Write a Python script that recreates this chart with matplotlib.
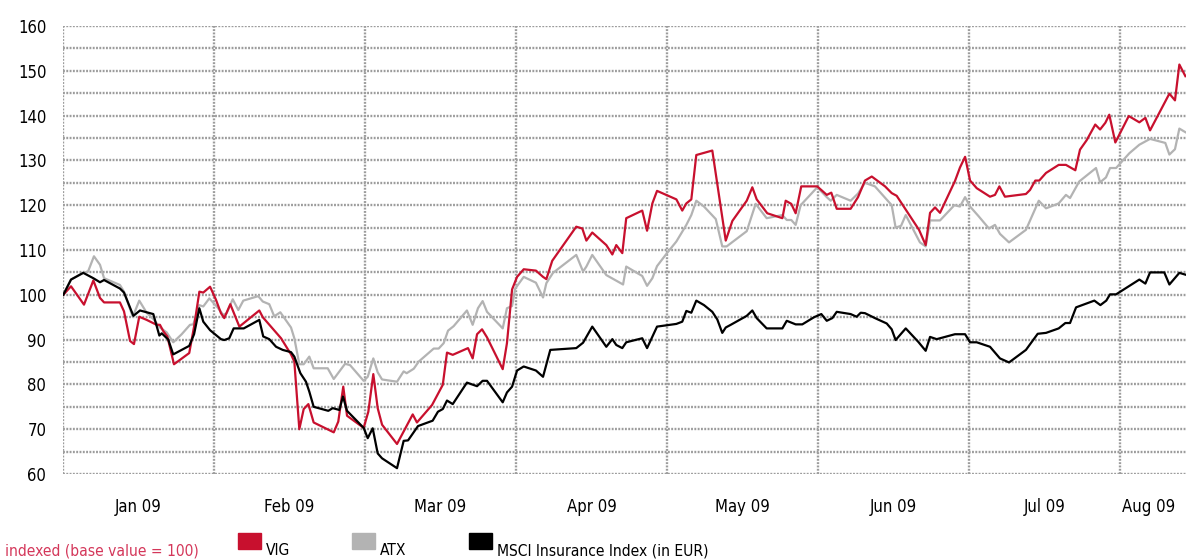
import matplotlib

matplotlib.use("Agg")
import matplotlib.pyplot as plt
from matplotlib.patches import Rectangle

plt.rcParams["font.family"] = ["DejaVu Sans"]
plt.rcParams["font.stretch"] = "condensed"

# x positions in months since 1 Jan 09 (1.0 = start of Feb, ...)
MONTHS = ["Jan 09", "Feb 09", "Mar 09", "Apr 09", "May 09", "Jun 09", "Jul 09", "Aug 09"]
MONTH_LABEL_POS = [0.5, 1.5, 2.5, 3.5, 4.5, 5.5, 6.5, 7.19]

vig_x = [0.002, 0.053, 0.139, 0.201, 0.245, 0.272, 0.377, 0.404, 0.444, 0.470, 0.505, 0.554,
         0.620, 0.642, 0.664, 0.691, 0.735, 0.836, 0.868, 0.903, 0.929, 0.974, 1.013, 1.046,
         1.068, 1.108, 1.168, 1.300, 1.323, 1.377, 1.444, 1.510, 1.532, 1.565, 1.594, 1.625,
         1.660, 1.793, 1.823, 1.856, 1.881, 1.991, 2.022, 2.055, 2.084, 2.113, 2.212, 2.316,
         2.344, 2.444, 2.515, 2.543, 2.581, 2.682, 2.713, 2.742, 2.775, 2.808, 2.912, 2.940,
         2.974, 3.007, 3.051, 3.132, 3.179, 3.201, 3.240, 3.399, 3.439, 3.466, 3.505, 3.598,
         3.638, 3.664, 3.704, 3.730, 3.836, 3.868, 3.903, 3.934, 4.062, 4.101, 4.128, 4.161,
         4.194, 4.300, 4.389, 4.433, 4.528, 4.565, 4.594, 4.664, 4.764, 4.786, 4.823, 4.852,
         4.889, 4.995, 5.058, 5.088, 5.124, 5.216, 5.265, 5.311, 5.356, 5.444, 5.488, 5.521,
         5.669, 5.713, 5.742, 5.775, 5.808, 5.907, 5.940, 5.974, 6.007, 6.051, 6.139, 6.172,
         6.201, 6.238, 6.377, 6.404, 6.439, 6.465, 6.510, 6.594, 6.642, 6.704, 6.735, 6.779,
         6.836, 6.868, 6.903, 6.929, 6.969, 7.058, 7.128, 7.168, 7.199, 7.327, 7.364, 7.393,
         7.433]
vig_y = [100, 101.9, 97.8, 103.2, 99.3, 98.3, 98.3, 96.3, 89.7, 89.0, 95.1, 94.4,
         93.3, 93.3, 91.9, 90.7, 84.5, 87.0, 92.9, 100.7, 100.5, 101.8, 98.9, 95.9,
         94.8, 97.9, 92.9, 96.5, 95.0, 92.9, 90.3, 86.7, 85.1, 70.0, 74.5, 75.6,
         71.5, 69.3, 71.7, 79.5, 73.0, 70.3, 73.9, 82.3, 74.7, 71.0, 66.7, 73.3,
         71.5, 75.4, 79.9, 87.1, 86.6, 88.1, 85.8, 91.2, 92.3, 90.5, 83.4, 89.2,
         101.2, 104.0, 105.7, 105.4, 104.0, 103.5, 107.6, 115.2, 114.8, 112.1, 113.9, 111.1,
         109.0, 111.1, 109.3, 117.1, 118.8, 114.3, 120.4, 123.2, 121.3, 118.8, 120.4, 121.3,
         131.2, 132.2, 112.1, 116.5, 121.0, 124.0, 121.3, 118.2, 117.1, 121.0, 120.3, 118.2,
         124.2, 124.2, 122.3, 122.8, 119.2, 119.2, 121.8, 125.5, 126.4, 124.2, 122.7, 122.1,
         114.5, 111.1, 118.3, 119.5, 118.3, 125.4, 128.4, 130.8, 125.5, 123.8, 121.9, 122.3,
         124.2, 121.9, 122.5, 123.4, 125.5, 125.5, 127.2, 129.0, 129.0, 127.8, 132.4, 134.5,
         138.0, 136.9, 138.4, 140.2, 134.0, 139.9, 138.5, 139.5, 136.7, 144.9, 143.4, 151.4,
         148.8]

atx_x = [0.002, 0.053, 0.134, 0.166, 0.205, 0.245, 0.272, 0.377, 0.404, 0.462, 0.505, 0.554,
         0.598, 0.642, 0.687, 0.730, 0.786, 0.841, 0.863, 0.901, 0.929, 0.969, 1.018, 1.062,
         1.084, 1.124, 1.161, 1.194, 1.293, 1.323, 1.366, 1.399, 1.439, 1.510, 1.532, 1.565,
         1.594, 1.631, 1.660, 1.753, 1.793, 1.868, 1.901, 1.991, 2.018, 2.055, 2.084, 2.113,
         2.212, 2.256, 2.276, 2.323, 2.356, 2.455, 2.488, 2.521, 2.550, 2.587, 2.675, 2.713,
         2.748, 2.779, 2.808, 2.912, 2.940, 2.974, 2.995, 3.051, 3.132, 3.179, 3.201, 3.245,
         3.399, 3.444, 3.466, 3.505, 3.598, 3.709, 3.730, 3.836, 3.868, 3.903, 3.934, 3.995,
         4.062, 4.128, 4.161, 4.194, 4.245, 4.323, 4.366, 4.395, 4.528, 4.587, 4.660, 4.764,
         4.793, 4.823, 4.852, 4.885, 4.995, 5.058, 5.084, 5.124, 5.216, 5.265, 5.311, 5.377,
         5.488, 5.514, 5.550, 5.581, 5.675, 5.713, 5.742, 5.808, 5.903, 5.940, 5.974, 6.007,
         6.062, 6.132, 6.172, 6.205, 6.265, 6.377, 6.462, 6.510, 6.594, 6.642, 6.669, 6.730,
         6.841, 6.868, 6.907, 6.934, 6.974, 7.062, 7.128, 7.199, 7.300, 7.327, 7.364, 7.393,
         7.433]
atx_y = [100, 103.4, 104.9, 105.2, 108.6, 106.7, 103.7, 102.2, 100.7, 95.1, 98.7, 96.0,
         94.6, 92.7, 91.6, 89.4, 91.2, 93.3, 93.4, 97.7, 97.4, 99.2, 97.4, 95.5,
         95.9, 99.0, 96.6, 98.7, 99.7, 98.5, 97.9, 95.2, 96.1, 92.7, 90.3, 84.5,
         84.5, 86.2, 83.6, 83.6, 81.2, 84.6, 84.3, 80.8, 81.7, 85.8, 82.7, 81.1,
         80.6, 82.9, 82.5, 83.5, 85.1, 88.0, 88.0, 89.2, 92.0, 93.0, 96.5, 93.3,
         97.0, 98.6, 96.2, 92.5, 97.0, 97.5, 101.4, 104.0, 102.7, 99.4, 102.6, 104.9,
         108.9, 105.2, 106.3, 108.9, 104.4, 102.3, 106.3, 104.2, 102.0, 103.7, 106.4, 109.1,
         111.9, 115.6, 117.8, 121.0, 119.7, 116.9, 110.8, 110.8, 114.2, 120.3, 117.1, 117.8,
         116.7, 116.7, 115.6, 120.0, 124.0, 121.8, 121.0, 122.3, 121.0, 122.6, 125.0, 124.2,
         120.0, 115.0, 115.4, 117.8, 111.7, 110.8, 116.6, 116.6, 120.0, 119.7, 121.8, 119.7,
         117.6, 114.8, 115.6, 113.6, 111.7, 114.5, 121.0, 119.3, 120.4, 122.3, 121.6, 125.3,
         128.3, 125.1, 126.2, 128.3, 128.3, 131.6, 133.5, 134.8, 133.9, 131.3, 132.5, 137.1,
         136.3]

msci_x = [0.002, 0.053, 0.134, 0.201, 0.245, 0.272, 0.377, 0.404, 0.466, 0.510, 0.598, 0.638,
          0.654, 0.697, 0.730, 0.836, 0.868, 0.903, 0.929, 0.974, 1.046, 1.068, 1.101, 1.130,
          1.197, 1.300, 1.326, 1.366, 1.411, 1.455, 1.510, 1.532, 1.572, 1.609, 1.631, 1.660,
          1.757, 1.786, 1.830, 1.854, 1.881, 1.991, 2.018, 2.051, 2.084, 2.113, 2.212, 2.256,
          2.285, 2.351, 2.448, 2.483, 2.515, 2.543, 2.581, 2.675, 2.742, 2.779, 2.808, 2.912,
          2.940, 2.974, 3.007, 3.051, 3.132, 3.179, 3.227, 3.399, 3.444, 3.505, 3.598, 3.638,
          3.664, 3.704, 3.730, 3.836, 3.868, 3.934, 4.062, 4.101, 4.128, 4.161, 4.194, 4.245,
          4.300, 4.333, 4.366, 4.389, 4.422, 4.528, 4.565, 4.594, 4.660, 4.764, 4.793, 4.852,
          4.896, 4.974, 5.022, 5.058, 5.095, 5.124, 5.216, 5.256, 5.283, 5.311, 5.377, 5.455,
          5.488, 5.514, 5.581, 5.664, 5.713, 5.742, 5.786, 5.907, 5.974, 6.007, 6.051, 6.139,
          6.205, 6.265, 6.377, 6.455, 6.510, 6.594, 6.638, 6.669, 6.709, 6.830, 6.870, 6.909,
          6.934, 6.974, 7.128, 7.168, 7.199, 7.293, 7.327, 7.393, 7.433]
msci_y = [100, 103.4, 104.9, 103.7, 102.8, 103.3, 101.4, 100.5, 95.3, 96.5, 95.7, 90.9,
          91.4, 90.0, 86.7, 88.6, 91.2, 97.0, 94.0, 92.1, 90.1, 89.9, 90.3, 92.5,
          92.5, 94.4, 90.7, 90.1, 88.4, 87.7, 87.2, 86.2, 82.5, 80.6, 78.4, 75.0,
          74.1, 74.7, 74.3, 77.3, 74.1, 70.3, 68.0, 70.2, 64.6, 63.5, 61.3, 67.4,
          67.5, 70.7, 71.9, 73.9, 74.5, 76.4, 75.6, 80.4, 79.6, 80.8, 80.8, 76.0,
          78.2, 79.5, 83.1, 84.0, 83.1, 81.7, 87.7, 88.1, 89.3, 92.9, 88.4, 90.1,
          88.8, 88.1, 89.4, 90.3, 88.1, 92.9, 93.5, 94.0, 96.4, 96.0, 98.7, 97.7,
          96.2, 94.5, 91.5, 92.7, 93.3, 95.3, 96.5, 94.8, 92.5, 92.5, 94.2, 93.4,
          93.4, 95.0, 95.7, 94.2, 94.8, 96.2, 95.7, 95.1, 96.0, 95.9, 94.8, 93.6,
          92.3, 89.9, 92.5, 89.5, 87.5, 90.6, 90.1, 91.2, 91.2, 89.4, 89.4, 88.4,
          85.8, 84.9, 87.7, 91.3, 91.5, 92.5, 93.7, 93.7, 97.2, 98.7, 97.7, 98.7,
          100.1, 100.1, 103.4, 102.5, 105.0, 105.0, 102.3, 104.9, 104.5]

RED = "#c8102e"
GREY = "#b3b3b3"
BLACK = "#000000"
GRID = "#9c9c9c"
FS = 12
LEGEND_FS = 11.2

fig = plt.figure(figsize=(11.86, 5.59), dpi=100)
ax = fig.add_axes([63 / 1186, 1 - 474 / 559, 1 - 63 / 1186, 448 / 559])

ax.plot(atx_x, atx_y, color=GREY, lw=1.6, zorder=3)
ax.plot(vig_x, vig_y, color=RED, lw=1.6, zorder=4)
ax.plot(msci_x, msci_y, color=BLACK, lw=1.6, zorder=5)

ax.set_xlim(0, 7.437)
ax.set_ylim(60, 160)

ax.set_yticks(range(60, 161, 10))
ax.set_yticks(range(65, 160, 10), minor=True)
ax.set_xticks(range(0, 8))
ax.set_xticklabels([])
ax.set_xticks(MONTH_LABEL_POS, minor=True)
ax.set_xticklabels(MONTHS, minor=True)

ax.tick_params(which="both", length=0)
ax.tick_params(axis="y", pad=12, labelsize=FS)
ax.tick_params(axis="x", which="minor", pad=17, labelsize=FS)
gridstyle = dict(color=GRID, lw=1.7, linestyle=(0, (0.8, 0.6)))
ax.grid(which="both", axis="y", **gridstyle)
ax.grid(which="major", axis="x", **gridstyle)
ax.set_axisbelow(True)
for s in ax.spines.values():
    s.set_visible(False)

# legend row below the chart
fig.text(5 / 1186, 1 - 555 / 559, "indexed (base value = 100)", color="#d4375a",
         fontsize=LEGEND_FS, va="baseline", ha="left")
legend = [(238, RED, "VIG"), (352, GREY, "ATX"), (469, BLACK, "MSCI Insurance Index (in EUR)")]
for x0, col, label in legend:
    fig.patches.append(Rectangle((x0 / 1186, 1 - 549 / 559), 23 / 1186, 16 / 559,
                                 transform=fig.transFigure, color=col, figure=fig))
    fig.text((x0 + 28) / 1186, 1 - 555 / 559, label, color="black",
             fontsize=LEGEND_FS, va="baseline", ha="left")

fig.savefig("out.png", dpi=100)
